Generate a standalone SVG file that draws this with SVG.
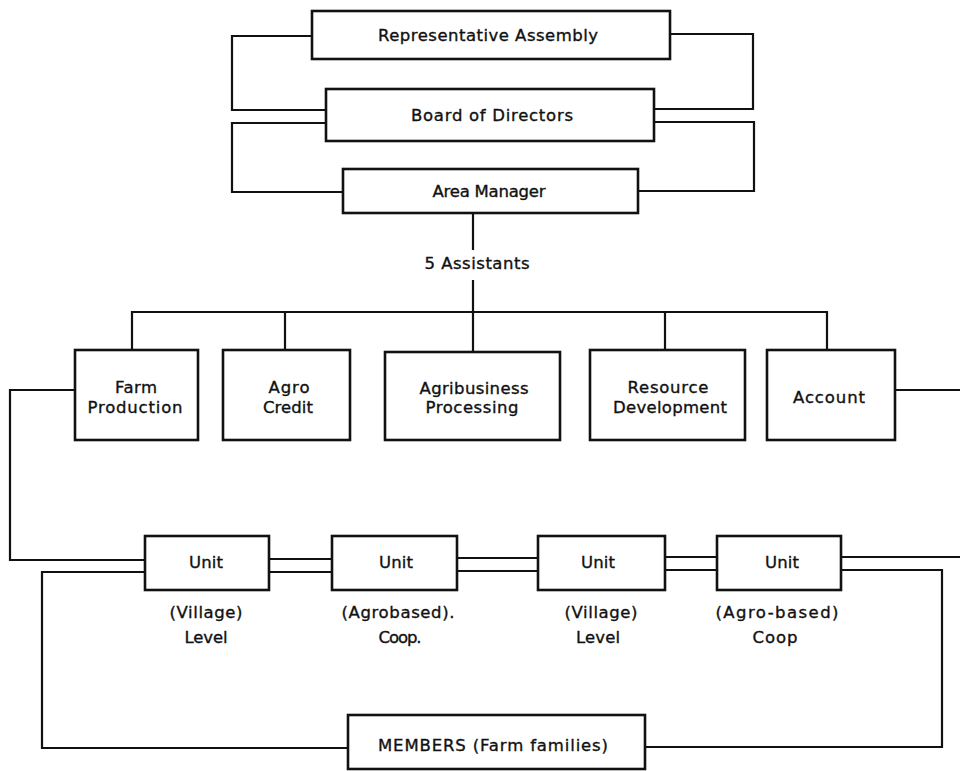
<svg xmlns="http://www.w3.org/2000/svg" width="960" height="771" viewBox="0 0 960 771">
<style>
.box{fill:#fff;stroke:#111;stroke-width:2.6}
.ln{fill:none;stroke:#111;stroke-width:2.2;stroke-linejoin:miter}
text{font-family:"DejaVu Sans","Liberation Sans",sans-serif;font-size:16.5px;fill:#111;stroke:#111;stroke-width:0.35;text-anchor:middle}
</style>
<rect width="960" height="771" fill="#fff"/>
<g id="connectors">
<polyline class="ln" points="312,36 232,36 232,110 326,110"/>
<polyline class="ln" points="670,34 753,34 753,109 654,109"/>
<polyline class="ln" points="326,123 232,123 232,192 343,192"/>
<polyline class="ln" points="654,122 754,122 754,191 638,191"/>
<line class="ln" x1="473" y1="213" x2="473" y2="250"/>
<line class="ln" x1="473" y1="280" x2="473" y2="352"/>
<polyline class="ln" points="132,350 132,312 827,312 827,350"/>
<line class="ln" x1="285" y1="312" x2="285" y2="350"/>
<line class="ln" x1="665" y1="312" x2="665" y2="350"/>
<polyline class="ln" points="75,390 10,390 10,560 145,560"/>
<line class="ln" x1="895" y1="390" x2="960" y2="390"/>
<line class="ln" x1="269" y1="559" x2="332" y2="559"/>
<line class="ln" x1="269" y1="572" x2="332" y2="572"/>
<line class="ln" x1="457" y1="558" x2="538" y2="558"/>
<line class="ln" x1="457" y1="571" x2="538" y2="571"/>
<line class="ln" x1="665" y1="557" x2="717" y2="557"/>
<line class="ln" x1="665" y1="570" x2="717" y2="570"/>
<polyline class="ln" points="145,572 42,572 42,748 348,748"/>
<line class="ln" x1="841" y1="557" x2="960" y2="557"/>
<polyline class="ln" points="841,570 942,570 942,747 645,747"/>
</g>
<g id="representative-assembly"><rect class="box" x="312" y="11" width="358" height="48"/><text x="488" y="41" textLength="220" lengthAdjust="spacing">Representative Assembly</text></g>
<g id="board-of-directors"><rect class="box" x="326" y="89" width="328" height="52"/><text x="492" y="121" textLength="162" lengthAdjust="spacing">Board of Directors</text></g>
<g id="area-manager"><rect class="box" x="343" y="169" width="295" height="44"/><text x="489" y="197" textLength="113" lengthAdjust="spacing">Area Manager</text></g>
<g id="assistants-label"><text x="477" y="269" textLength="105" lengthAdjust="spacing">5 Assistants</text></g>
<g id="farm-production"><rect class="box" x="75" y="350" width="123" height="90"/><text x="136" y="393" textLength="42" lengthAdjust="spacing">Farm</text><text x="135" y="413" textLength="95" lengthAdjust="spacing">Production</text></g>
<g id="agro-credit"><rect class="box" x="223" y="350" width="127" height="90"/><text x="289" y="393" textLength="41" lengthAdjust="spacing">Agro</text><text x="288" y="413" textLength="50" lengthAdjust="spacing">Credit</text></g>
<g id="agribusiness-processing"><rect class="box" x="385" y="352" width="175" height="88"/><text x="474" y="394" textLength="109" lengthAdjust="spacing">Agribusiness</text><text x="472" y="413" textLength="93" lengthAdjust="spacing">Processing</text></g>
<g id="resource-development"><rect class="box" x="590" y="350" width="155" height="90"/><text x="668" y="393" textLength="81" lengthAdjust="spacing">Resource</text><text x="670" y="413" textLength="114" lengthAdjust="spacing">Development</text></g>
<g id="account"><rect class="box" x="767" y="350" width="128" height="90"/><text x="829" y="403" textLength="72" lengthAdjust="spacing">Account</text></g>
<g id="unit-1"><rect class="box" x="145" y="536" width="124" height="54"/><text x="206" y="568" textLength="34" lengthAdjust="spacing">Unit</text><text x="206" y="618" textLength="73" lengthAdjust="spacing">(Village)</text><text x="206" y="643" textLength="43" lengthAdjust="spacing">Level</text></g>
<g id="unit-2"><rect class="box" x="332" y="536" width="125" height="54"/><text x="396" y="568" textLength="34" lengthAdjust="spacing">Unit</text><text x="398" y="618" textLength="113" lengthAdjust="spacing">(Agrobased).</text><text x="400" y="643" textLength="43" lengthAdjust="spacing">Coop.</text></g>
<g id="unit-3"><rect class="box" x="538" y="536" width="127" height="54"/><text x="598" y="568" textLength="34" lengthAdjust="spacing">Unit</text><text x="601" y="618" textLength="73" lengthAdjust="spacing">(Village)</text><text x="598" y="643" textLength="44" lengthAdjust="spacing">Level</text></g>
<g id="unit-4"><rect class="box" x="717" y="536" width="124" height="54"/><text x="782" y="568" textLength="34" lengthAdjust="spacing">Unit</text><text x="777" y="618" textLength="123" lengthAdjust="spacing">(Agro-based)</text><text x="775" y="643" textLength="45" lengthAdjust="spacing">Coop</text></g>
<g id="members"><rect class="box" x="348" y="715" width="297" height="54"/><text x="493" y="751" textLength="230" lengthAdjust="spacing">MEMBERS (Farm families)</text></g>
</svg>
